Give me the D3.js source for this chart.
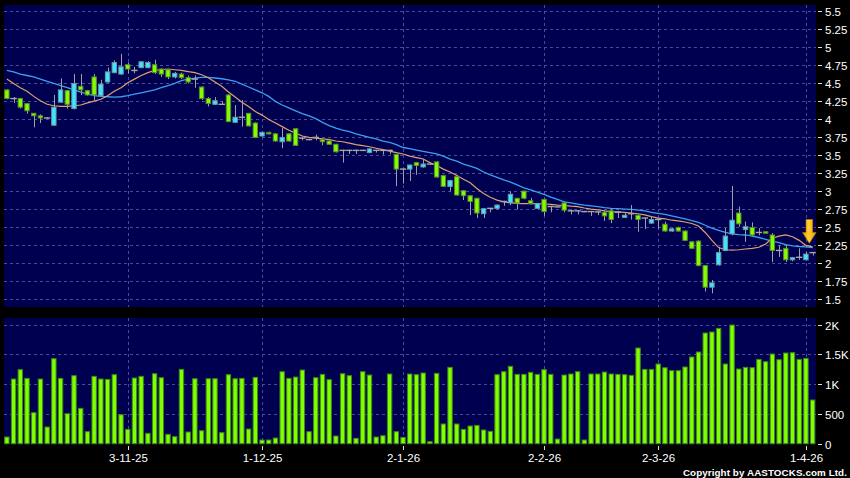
<!DOCTYPE html>
<html><head><meta charset="utf-8">
<script src="https://cdn.jsdelivr.net/npm/d3@7"></script>
<style>html,body{margin:0;padding:0;background:#000;}svg{display:block}</style>
</head><body><svg id="c" width="850" height="478"></svg>
<script>
// ---- data ----
const openP  = [4.40,4.28,4.28,4.21,4.075,4.04,4.01,3.91,4.23,4.39,4.14,4.45,4.39,4.58,4.32,4.51,4.64,4.62,4.75,4.67,4.71,4.71,4.75,4.69,4.68,4.58,4.62,4.57,4.55,4.44,4.28,4.20,4.20,4.33,3.95,4.02,4.075,3.94,3.76,3.81,3.79,3.68,3.79,3.86,3.73,3.71,3.74,3.71,3.69,3.645,3.56,3.56,3.56,3.56,3.53,3.56,3.56,3.56,3.505,3.30,3.30,3.39,3.33,3.37,3.40,3.21,3.06,3.195,3.00,2.93,2.895,2.68,2.755,2.755,2.85,2.83,2.895,2.995,2.86,2.755,2.88,2.78,2.775,2.83,2.72,2.72,2.71,2.71,2.705,2.70,2.72,2.70,2.63,2.68,2.66,2.62,2.55,2.60,2.535,2.44,2.49,2.44,2.29,2.30,1.96,1.66,1.97,2.17,2.40,2.69,2.46,2.49,2.42,2.43,2.385,2.17,2.20,2.04,2.075,2.04,2.14];
const highP  = [4.41,4.30,4.29,4.22,4.08,4.06,4.02,4.33,4.56,4.40,4.62,4.62,4.40,4.62,4.54,4.71,4.81,4.90,4.78,4.72,4.80,4.80,4.82,4.70,4.69,4.65,4.64,4.60,4.60,4.45,4.30,4.30,4.24,4.34,4.19,4.26,4.08,3.95,3.82,3.82,3.80,3.87,3.80,3.87,3.75,3.72,3.78,3.72,3.70,3.65,3.57,3.57,3.57,3.57,3.59,3.57,3.57,3.57,3.51,3.31,3.36,3.40,3.44,3.38,3.41,3.22,3.15,3.22,3.01,2.94,2.90,2.76,2.76,2.81,2.86,2.99,2.90,3.00,2.90,2.83,2.89,2.79,2.78,2.85,2.74,2.73,2.72,2.72,2.72,2.73,2.75,2.72,2.70,2.80,2.67,2.63,2.64,2.62,2.57,2.48,2.50,2.45,2.30,2.31,1.97,1.76,2.22,2.48,3.065,2.78,2.57,2.56,2.48,2.44,2.41,2.24,2.25,2.08,2.20,2.15,2.15];
const lowP   = [4.27,4.22,4.14,4.07,3.88,3.94,4.00,3.90,4.22,4.14,4.13,4.33,4.32,4.26,4.31,4.50,4.63,4.61,4.63,4.63,4.70,4.70,4.62,4.58,4.55,4.56,4.55,4.49,4.43,4.26,4.17,4.19,4.19,3.95,3.94,3.89,3.89,3.73,3.75,3.78,3.68,3.59,3.68,3.62,3.70,3.70,3.70,3.63,3.64,3.53,3.39,3.51,3.51,3.55,3.52,3.53,3.50,3.51,3.065,3.10,3.135,3.22,3.32,3.36,3.18,3.05,2.99,2.93,2.87,2.66,2.62,2.62,2.70,2.74,2.79,2.80,2.74,2.88,2.81,2.75,2.65,2.70,2.77,2.70,2.67,2.67,2.70,2.65,2.66,2.58,2.55,2.62,2.62,2.60,2.43,2.47,2.54,2.47,2.43,2.43,2.43,2.30,2.19,1.95,1.60,1.575,1.96,2.16,2.38,2.50,2.29,2.37,2.38,2.40,2.01,2.08,2.01,2.02,2.04,2.03,2.10];
const closeP = [4.28,4.28,4.16,4.11,4.04,4.01,4.01,4.16,4.40,4.20,4.49,4.40,4.33,4.33,4.48,4.65,4.78,4.72,4.69,4.67,4.79,4.78,4.64,4.62,4.58,4.63,4.57,4.51,4.55,4.28,4.21,4.25,4.20,3.96,4.02,4.02,3.90,3.74,3.81,3.79,3.69,3.74,3.69,3.63,3.73,3.71,3.74,3.68,3.645,3.54,3.56,3.56,3.56,3.56,3.58,3.56,3.56,3.56,3.30,3.30,3.357,3.35,3.37,3.37,3.19,3.06,3.14,2.94,2.93,2.85,2.69,2.75,2.755,2.80,2.85,2.95,2.83,2.895,2.82,2.82,2.71,2.78,2.775,2.73,2.72,2.72,2.71,2.71,2.705,2.65,2.60,2.70,2.66,2.68,2.60,2.62,2.60,2.60,2.44,2.47,2.44,2.31,2.20,1.96,1.66,1.72,2.14,2.37,2.59,2.54,2.50,2.385,2.42,2.41,2.17,2.17,2.04,2.07,2.075,2.12,2.14];
const volume = [112,1087,1244,1098,521,1087,280,1429,1098,504,1143,594,202,1132,1087,1081,1160,487,241,1104,1132,174,1176,1109,157,118,1249,196,1092,218,1092,1092,185,1160,1092,1098,246,1115,62,62,95,1210,1098,1120,1238,202,1109,1165,1076,129,1176,1143,90,1210,1154,112,134,1171,202,106,1171,1160,1188,34,1182,331,1283,331,241,297,308,230,207,1160,1210,1300,1165,1165,1199,1165,1244,1165,78,1154,1171,1210,62,1171,1171,1204,1171,1165,1160,1148,1608,1249,1249,1339,1277,1227,1227,1289,1457,1541,1860,1877,1938,1339,1994,1255,1283,1277,1417,1378,1507,1412,1524,1529,1417,1434,734];
const maShort = [4.55,4.49,4.43,4.38,4.31,4.25,4.20,4.18,4.17,4.17,4.18,4.19,4.22,4.245,4.27,4.32,4.38,4.43,4.50,4.55,4.60,4.64,4.67,4.68,4.69,4.68,4.67,4.655,4.64,4.61,4.57,4.51,4.45,4.37,4.30,4.23,4.17,4.10,4.05,3.99,3.94,3.89,3.84,3.80,3.76,3.74,3.73,3.72,3.71,3.69,3.68,3.66,3.64,3.625,3.61,3.59,3.57,3.55,3.53,3.51,3.48,3.46,3.44,3.39,3.35,3.30,3.26,3.21,3.16,3.11,3.03,2.96,2.91,2.87,2.845,2.835,2.825,2.82,2.82,2.82,2.815,2.81,2.80,2.795,2.785,2.78,2.76,2.745,2.735,2.72,2.71,2.705,2.70,2.69,2.68,2.665,2.64,2.62,2.61,2.59,2.58,2.565,2.545,2.51,2.42,2.31,2.21,2.18,2.175,2.18,2.19,2.20,2.215,2.26,2.34,2.37,2.385,2.36,2.31,2.24,2.22];
const maLong = [4.67,4.65,4.62,4.60,4.58,4.55,4.52,4.49,4.46,4.43,4.40,4.37,4.345,4.32,4.31,4.305,4.30,4.305,4.32,4.34,4.36,4.38,4.40,4.43,4.46,4.49,4.53,4.55,4.565,4.575,4.575,4.565,4.555,4.54,4.52,4.48,4.44,4.40,4.36,4.31,4.24,4.19,4.15,4.11,4.07,4.04,4.00,3.95,3.905,3.87,3.84,3.82,3.79,3.765,3.74,3.72,3.69,3.67,3.64,3.60,3.585,3.565,3.545,3.53,3.51,3.48,3.44,3.41,3.37,3.34,3.31,3.26,3.22,3.185,3.15,3.12,3.08,3.04,3.01,2.98,2.95,2.91,2.88,2.845,2.83,2.815,2.80,2.79,2.78,2.765,2.755,2.75,2.745,2.74,2.73,2.72,2.70,2.685,2.67,2.65,2.63,2.61,2.585,2.56,2.52,2.48,2.45,2.42,2.40,2.39,2.385,2.37,2.35,2.325,2.30,2.28,2.25,2.235,2.225,2.22,2.21];
const dateTickIdx = [18,38,59,80,97,119];
const dateTickLabels = ["3-11-25","1-12-25","2-1-26","2-2-26","2-3-26","1-4-26"];
const priceTicks = [1.5,1.75,2,2.25,2.5,2.75,3,3.25,3.5,3.75,4,4.25,4.5,4.75,5,5.25,5.5];
const priceTickLabels = ["1.5","1.75","2","2.25","2.5","2.75","3","3.25","3.5","3.75","4","4.25","4.5","4.75","5","5.25","5.5"];
const volTicks = [0,500,1000,1500,2000];
const volTickLabels = ["0","500","1K","1.5K","2K"];
const markerIdx = 119;

// ---- drawing ----
const svg = d3.select("#c");
const W = 850, H = 478;
svg.append("rect").attr("width",W).attr("height",H).attr("fill","#000");

const pL = 4, pR = 816;
const priceTop = 5, priceBot = 307;
const volTop = 318, volBot = 444;

const idx = d3.range(closeP.length);
const x = d3.scaleBand().domain(idx).range([3.5, 816]).paddingInner(0.2).paddingOuter(0.1);
const cx = i => x(i) + x.bandwidth()/2;
const y = d3.scaleLinear().domain([1.5,5.5]).range([298.7,10.7]);
const yv = d3.scaleLinear().domain([0,2000]).range([443.7,324.7]);

const bg = "#000050", grid = "#4a4a98";
svg.append("rect").attr("x",pL).attr("y",priceTop).attr("width",pR-pL).attr("height",priceBot-priceTop).attr("fill",bg);
svg.append("rect").attr("x",pL).attr("y",volTop).attr("width",pR-pL).attr("height",volBot-volTop).attr("fill",bg);

const g = svg.append("g");
g.selectAll(".hp").data(priceTicks).join("line")
  .attr("x1",pL).attr("x2",pR).attr("y1",d=>Math.round(y(d))+0.5).attr("y2",d=>Math.round(y(d))+0.5)
  .attr("stroke",grid).attr("stroke-dasharray","3,3").attr("stroke-width",1);
g.selectAll(".hv").data(volTicks.filter(d=>d>0)).join("line")
  .attr("x1",pL).attr("x2",pR).attr("y1",d=>Math.round(yv(d))+0.5).attr("y2",d=>Math.round(yv(d))+0.5)
  .attr("stroke",grid).attr("stroke-dasharray","3,3").attr("stroke-width",1);
dateTickIdx.forEach(i=>{
  const xx = Math.round(cx(i))+0.5;
  g.append("line").attr("x1",xx).attr("x2",xx).attr("y1",priceTop).attr("y2",priceBot)
    .attr("stroke",grid).attr("stroke-dasharray","3,3");
  g.append("line").attr("x1",xx).attr("x2",xx).attr("y1",volTop).attr("y2",volBot)
    .attr("stroke",grid).attr("stroke-dasharray","3,3");
});

// volume bars
svg.append("g").selectAll("rect").data(idx).join("rect")
  .attr("x",i=>x(i)+0.5).attr("width",x.bandwidth()-1)
  .attr("y",i=>yv(volume[i])).attr("height",i=>Math.max(1,yv(0)-yv(volume[i])))
  .attr("fill","#80ff00").attr("stroke","#3f8a14").attr("stroke-width",1);

// moving averages
const line = arr => d3.line().x((d,i)=>cx(i)).y(d=>y(d))(arr);
svg.append("path").attr("d",line(maLong)).attr("fill","none").attr("stroke","#3aa0f0").attr("stroke-width",1.3);
svg.append("path").attr("d",line(maShort)).attr("fill","none").attr("stroke","#e0a070").attr("stroke-width",1.2);

// candles
const cg = svg.append("g");
idx.forEach(i=>{
  const o=openP[i], c=closeP[i], h=highP[i], l=lowP[i];
  const xc = Math.round(cx(i))+0.5;
  cg.append("line").attr("x1",xc).attr("x2",xc).attr("y1",y(h)).attr("y2",y(l)).attr("stroke","#a0a0a0").attr("stroke-width",1);
  const bw = x.bandwidth();
  if (o===c) {
    cg.append("line").attr("x1",x(i)-0.5).attr("x2",x(i)+bw+0.5).attr("y1",y(o)).attr("y2",y(o)).attr("stroke","#a8a8a8").attr("stroke-width",1.4);
  } else {
    const up = c>o;
    const top = y(Math.max(o,c)), bot = y(Math.min(o,c));
    cg.append("rect").attr("x",x(i)+0.5).attr("width",bw-1).attr("y",top).attr("height",Math.max(1.5,bot-top))
      .attr("fill", up ? "#40e4ff" : "#80ff00")
      .attr("stroke", up ? "#6c98a4" : "#5c8a2c").attr("stroke-width",1);
  }
});

// arrow marker
const ax = cx(markerIdx)+3.4, aTop = 219.5, aTip = 243.3;
const grad = svg.append("defs").append("linearGradient").attr("id","ag").attr("x1","0").attr("x2","1");
grad.append("stop").attr("offset","0").attr("stop-color","#e89a00");
grad.append("stop").attr("offset","0.45").attr("stop-color","#ffd030");
grad.append("stop").attr("offset","1").attr("stop-color","#e89a00");
svg.append("path")
  .attr("d",`M${ax-3.3},${aTop} L${ax+3.3},${aTop} L${ax+3.3},${aTop+13} L${ax+6.8},${aTop+13} L${ax},${aTip} L${ax-6.8},${aTop+13} L${ax-3.3},${aTop+13} Z`)
  .attr("fill","url(#ag)").attr("stroke","#c07800").attr("stroke-width",0.6);

// right axes
const font = "'Liberation Sans', Arial, sans-serif";
const ax1 = svg.append("g");
priceTicks.forEach((t,k)=>{
  const yy = Math.round(y(t))+0.5;
  ax1.append("line").attr("x1",818).attr("x2",822).attr("y1",yy).attr("y2",yy).attr("stroke","#ddd");
  ax1.append("text").attr("x",825).attr("y",yy).attr("dy","0.36em").attr("fill","#fff")
    .attr("font-family",font).attr("font-size",11.5).text(priceTickLabels[k]);
});
volTicks.forEach((t,k)=>{
  const yy = Math.round(yv(t))+0.5;
  ax1.append("line").attr("x1",818).attr("x2",822).attr("y1",yy).attr("y2",yy).attr("stroke","#ddd");
  ax1.append("text").attr("x",825).attr("y",yy).attr("dy","0.36em").attr("fill","#fff")
    .attr("font-family",font).attr("font-size",11.5).text(volTickLabels[k]);
});
dateTickIdx.forEach((i,k)=>{
  const xx = Math.round(cx(i))+0.5;
  ax1.append("line").attr("x1",xx).attr("x2",xx).attr("y1",446).attr("y2",450).attr("stroke","#ddd");
  ax1.append("text").attr("x",xx).attr("y",462).attr("text-anchor","middle").attr("fill","#fff")
    .attr("font-family",font).attr("font-size",11.5).text(dateTickLabels[k]);
});
svg.append("text").attr("x",847).attr("y",476).attr("text-anchor","end").attr("fill","#fff")
  .attr("font-family",font).attr("font-size",9.8).attr("font-weight","bold").attr("letter-spacing",0.1)
  .text("Copyright by AASTOCKS.com Ltd.");
</script></body></html>
